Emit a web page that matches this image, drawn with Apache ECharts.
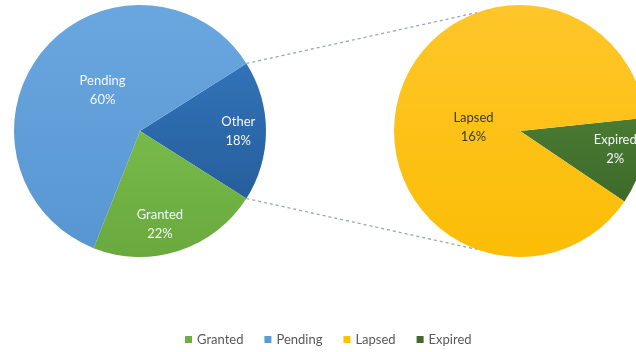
<!DOCTYPE html>
<html>
<head>
<meta charset="utf-8">
<script src="https://cdn.jsdelivr.net/npm/echarts@6/dist/echarts.min.js"></script>
<style>
  html, body { margin: 0; padding: 0; background: #ffffff; }
  #chart { width: 636px; height: 352px; }
</style>
</head>
<body>
<div id="chart"></div>
<script>
// Main pie: share of applications by status
const mainCategories = ['Other', 'Granted', 'Pending'];
const mainValues = [18, 22, 60];

// Breakdown of the "Other" slice
const subCategories = ['Expired', 'Lapsed'];
const subValues = [2, 16];

// Legend entries
const legendItems = ['Granted', 'Pending', 'Lapsed', 'Expired'];

// Geometry and styling
const MAIN_CENTER = [140, 131];
const SUB_CENTER = [520, 131];
const RADIUS = 126;
const FONT = 'Lato, "Open Sans", sans-serif';

const sum = a => a.reduce((s, v) => s + v, 0);
// Main pie starts so the "Other" slice is centred on the horizontal axis
const mainStart = (mainValues[0] / sum(mainValues)) * 360 / 2;
const subStart = 6;

function grad(top, bottom) {
  return new echarts.graphic.LinearGradient(0, 0, 0, 1, [
    { offset: 0, color: top }, { offset: 1, color: bottom }
  ]);
}

const colors = {
  Other: grad('#3173b8', '#265e9c'),
  Granted: grad('#78ba4a', '#69a93e'),
  Pending: grad('#6aa7e0', '#5896d2'),
  Lapsed: grad('#ffc62a', '#fbbd05'),
  Expired: grad('#4a7a33', '#3d6a2a')
};
const legendColors = {
  Granted: '#70ad47', Pending: '#5b9bd5', Lapsed: '#ffc000', Expired: '#43682b'
};
const labelColors = {
  Other: '#f4f7fb', Granted: '#f4f7fb', Pending: '#f4f7fb', Lapsed: '#3a3a3a', Expired: '#f4f7fb'
};
// Label anchor: angle offset from slice mid-angle (deg) and radial fraction
const labelPlace = {
  Other: [0, 0.78], Granted: [-6, 0.76], Pending: [-8, 0.44],
  Lapsed: [10, 0.37], Expired: [3, 0.77]
};

function midAngles(values, start) {
  const total = sum(values);
  let a = start;
  return values.map(v => {
    const span = v / total * 360;
    const m = a - span / 2;
    a -= span;
    return m;
  });
}

function makeLayout(names, values, start, center) {
  const mids = midAngles(values, start);
  return function (params) {
    const name = names[params.dataIndex];
    const p = labelPlace[name];
    const ang = (mids[params.dataIndex] + p[0]) * Math.PI / 180;
    return {
      x: center[0] + RADIUS * p[1] * Math.cos(ang),
      y: center[1] - RADIUS * p[1] * Math.sin(ang),
      align: 'center',
      verticalAlign: 'middle'
    };
  };
}

function pieData(names, values) {
  return names.map((n, i) => ({
    name: n,
    value: values[i],
    itemStyle: { color: colors[n] },
    label: { color: labelColors[n] }
  }));
}

// Dashed connectors from the "Other" slice edges to the breakdown pie
function polar(center, r, deg) {
  const a = deg * Math.PI / 180;
  return [center[0] + r * Math.cos(a), center[1] - r * Math.sin(a)];
}
const connectorStyle = { stroke: '#9ca5b5', lineWidth: 1.3, lineDash: [3, 3] };
const connectors = [
  { type: 'polyline', silent: true, z: 10,
    shape: { points: [polar(MAIN_CENTER, RADIUS, mainStart), polar(SUB_CENTER, RADIUS, 110)] },
    style: connectorStyle },
  { type: 'polyline', silent: true, z: 10,
    shape: { points: [polar(MAIN_CENTER, RADIUS, -mainStart), polar(SUB_CENTER, RADIUS, -110)] },
    style: connectorStyle }
];

const commonLabel = {
  show: true,
  position: 'inside',
  fontFamily: FONT,
  fontSize: 13,
  lineHeight: 19,
  formatter: p => p.name + '\n' + p.value + '%'
};

const chart = echarts.init(document.getElementById('chart'), null, { renderer: 'canvas' });
chart.setOption({
  animation: false,
  backgroundColor: '#ffffff',
  legend: {
    data: legendItems.map(n => ({ name: n, itemStyle: { color: legendColors[n] } })),
    left: 180,
    top: 328,
    icon: 'rect',
    itemWidth: 7,
    itemHeight: 7,
    itemGap: 21,
    textStyle: { fontFamily: FONT, fontSize: 13, color: '#595959' }
  },
  graphic: connectors,
  series: [
    {
      type: 'pie',
      center: MAIN_CENTER,
      radius: RADIUS,
      startAngle: mainStart,
      clockwise: true,
      label: commonLabel,
      labelLine: { show: false },
      labelLayout: makeLayout(mainCategories, mainValues, mainStart, MAIN_CENTER),
      itemStyle: { borderWidth: 0 },
      emphasis: { disabled: true },
      data: pieData(mainCategories, mainValues)
    },
    {
      type: 'pie',
      center: SUB_CENTER,
      radius: RADIUS,
      startAngle: subStart,
      clockwise: true,
      label: commonLabel,
      labelLine: { show: false },
      labelLayout: makeLayout(subCategories, subValues, subStart, SUB_CENTER),
      itemStyle: { borderWidth: 0 },
      emphasis: { disabled: true },
      data: pieData(subCategories, subValues)
    }
  ]
});
</script>
</body>
</html>
